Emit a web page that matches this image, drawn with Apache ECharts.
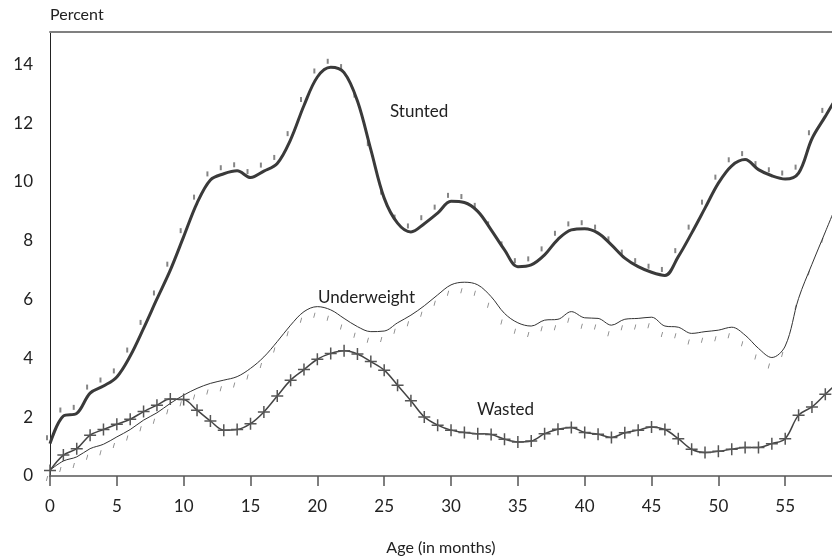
<!DOCTYPE html>
<html>
<head>
<meta charset="utf-8">
<script src="https://cdn.jsdelivr.net/npm/echarts@6/dist/echarts.min.js"></script>
<style>
html,body{margin:0;padding:0;background:#fff;}
#chart{width:832px;height:558px;}
</style>
</head>
<body>
<div id="chart"></div>
<script>
// Age in months
const months = [0,1,2,3,4,5,6,7,8,9,10,11,12,13,14,15,16,17,18,19,20,21,22,23,24,25,26,27,28,29,30,31,32,33,34,35,36,37,38,39,40,41,42,43,44,45,46,47,48,49,50,51,52,53,54,55,56,57,58,59];
const stunted = [1.1,2.04,2.13,2.82,3.06,3.37,4.08,5.02,6.02,7.0,8.14,9.28,10.07,10.28,10.38,10.15,10.37,10.63,11.44,12.6,13.57,13.9,13.72,12.75,11.1,9.45,8.6,8.3,8.58,8.94,9.34,9.3,9.0,8.37,7.69,7.12,7.18,7.52,8.05,8.37,8.41,8.26,7.86,7.41,7.12,6.93,6.82,7.46,8.26,9.11,9.96,10.55,10.76,10.42,10.21,10.1,10.3,11.47,12.23,13.0];
const underweight = [0.2,0.51,0.65,0.93,1.08,1.33,1.58,1.9,2.15,2.47,2.75,2.98,3.15,3.26,3.38,3.66,4.05,4.57,5.13,5.59,5.76,5.65,5.36,5.08,4.91,4.93,5.21,5.47,5.79,6.16,6.5,6.59,6.5,6.1,5.53,5.21,5.1,5.3,5.33,5.59,5.38,5.36,5.13,5.33,5.36,5.4,5.1,5.06,4.85,4.91,4.96,5.06,4.79,4.34,4.03,4.42,6.04,7.2,8.3,9.4];
const wasted = [0.19,0.71,0.93,1.39,1.58,1.76,1.93,2.19,2.41,2.62,2.6,2.24,1.87,1.56,1.58,1.78,2.18,2.72,3.26,3.62,3.97,4.17,4.26,4.15,3.89,3.6,3.09,2.56,2.01,1.73,1.56,1.48,1.44,1.41,1.25,1.16,1.19,1.44,1.59,1.65,1.48,1.42,1.31,1.47,1.56,1.67,1.58,1.27,0.91,0.8,0.84,0.91,0.97,0.97,1.1,1.27,2.07,2.35,2.78,3.2];
const xTicks = [0,5,10,15,20,25,30,35,40,45,50,55];
const yTicks = [0,2,4,6,8,10,12,14];
const seriesNames = ['Stunted','Underweight','Wasted'];

const pairs = arr => months.map((m,i)=>[m, arr[i]]);
const FONT = 'Lato';
const chart = echarts.init(document.getElementById('chart'), null, {renderer:'canvas'});
chart.setOption({
  animation:false,
  backgroundColor:'#fff',
  grid:{left:50, right:0, top:32, bottom:82, containLabel:false, outerBoundsMode:'none'},
  xAxis:[{
    type:'value', min:0, max:58.5,
    name:'Age (in months)', nameLocation:'middle', nameGap:64,
    nameTextStyle:{fontFamily:FONT, fontSize:16, color:'#222'},
    axisLine:{lineStyle:{color:'#808080', width:2}},
    axisTick:{show:true, length:10, lineStyle:{color:'#555', width:1.5}, customValues:xTicks},
    axisLabel:{customValues:xTicks, fontFamily:FONT, fontSize:17, color:'#222', margin:22},
    splitLine:{show:false}
  },{
    type:'value', position:'top', min:0, max:58.5,
    axisLine:{show:true, lineStyle:{color:'#808080', width:2}},
    axisTick:{show:false}, axisLabel:{show:false}, splitLine:{show:false}
  }],
  yAxis:{
    type:'value', min:0, max:15.1,
    axisLine:{show:true, lineStyle:{color:'#222', width:1}},
    axisTick:{show:false},
    axisLabel:{customValues:yTicks, fontFamily:FONT, fontSize:17, color:'#222', margin:17},
    splitLine:{show:false}
  },
  series:[
    {name:seriesNames[0]+' marks', type:'scatter', data:pairs(stunted), symbol:'rect', symbolSize:[2,5], symbolOffset:[-3,-6], itemStyle:{color:'#666'}, silent:true, z:2},
    {name:seriesNames[1]+' marks', type:'scatter', data:pairs(underweight), symbol:'path://M1.2,0 L2,0 L0.8,5 L0,5 Z', symbolSize:[2.2,5], symbolOffset:[-3,8.5], itemStyle:{color:'#666'}, silent:true, z:2},
    {name:seriesNames[0], type:'line', data:pairs(stunted), smooth:0.35, showSymbol:false, lineStyle:{color:'#3a3a3a', width:3}, z:3},
    {name:seriesNames[1], type:'line', data:pairs(underweight), smooth:0.35, showSymbol:false, lineStyle:{color:'#333', width:1}, z:3},
    {name:seriesNames[2], type:'line', data:pairs(wasted), smooth:0.35, showSymbol:true, showAllSymbol:true,
      symbol:'path://M5.25,0 L6.75,0 L6.75,5.25 L12,5.25 L12,6.75 L6.75,6.75 L6.75,12 L5.25,12 L5.25,6.75 L0,6.75 L0,5.25 L5.25,5.25 Z',
      symbolSize:12, itemStyle:{color:'#555'}, lineStyle:{color:'#444', width:1.5}, z:3}
  ],
  graphic:[
    {type:'text', left:50, top:7, style:{text:'Percent', font:'16px '+FONT, fill:'#222'}},
    {type:'text', left:390, top:103, style:{text:seriesNames[0], font:'17px '+FONT, fill:'#222'}},
    {type:'text', left:318, top:289, style:{text:seriesNames[1], font:'17px '+FONT, fill:'#222'}},
    {type:'text', left:477, top:401, style:{text:seriesNames[2], font:'17px '+FONT, fill:'#222'}}
  ]
});
</script>
</body>
</html>
